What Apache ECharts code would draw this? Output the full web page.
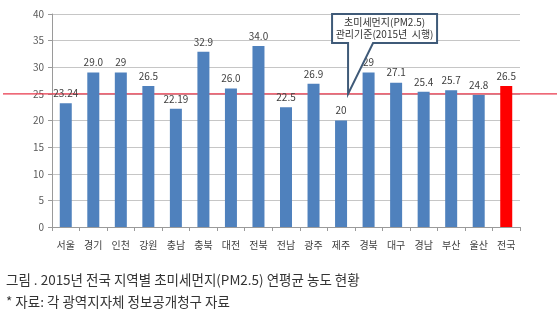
<!DOCTYPE html>
<html>
<head>
<meta charset="utf-8">
<script src="https://cdn.jsdelivr.net/npm/echarts@6/dist/echarts.min.js"></script>
<style>
  html, body { margin: 0; padding: 0; background: #fff; }
  #chart { width: 557px; height: 331px; }
</style>
</head>
<body>
<div id="chart"></div>
<script>
// 2015 annual mean PM2.5 concentration by region (µg/m³)
const regions = ['서울', '경기', '인천', '강원', '충남', '충북', '대전', '전북', '전남', '광주', '제주', '경북', '대구', '경남', '부산', '울산', '전국'];
const valueLabels = ['23.24', '29.0', '29', '26.5', '22.19', '32.9', '26.0', '34.0', '22.5', '26.9', '20', '29', '27.1', '25.4', '25.7', '24.8', '26.5'];
const values = valueLabels.map(Number);
const yTicks = [0, 5, 10, 15, 20, 25, 30, 35, 40];
const standardLevel = 25;
const calloutLines = ['초미세먼지(PM2.5)', '관리기준(2015년  시행)'];
const captionLines = ['그림 . 2015년 전국 지역별 초미세먼지(PM2.5) 연평균 농도 현황', '* 자료: 각 광역지자체 정보공개청구 자료'];

const FONT = '"Noto Sans CJK KR", "Noto Sans", sans-serif';
const chart = echarts.init(document.getElementById('chart'), null, { renderer: 'canvas' });

const barData = values.map((v, i) => ({
  value: v,
  itemStyle: { color: regions[i] === '전국' ? '#ff0000' : '#4f81bd' }
}));

chart.setOption({
  animation: false,
  textStyle: { fontFamily: FONT },
  grid: { left: 52, right: 37, top: 14, bottom: 104 },
  xAxis: {
    type: 'category',
    data: regions,
    axisLine: { lineStyle: { color: '#9a9a9a' } },
    axisTick: { show: true, length: 4, lineStyle: { color: '#9a9a9a' } },
    axisLabel: { color: '#404040', fontSize: 10, margin: 13, interval: 0, fontFamily: FONT }
  },
  yAxis: {
    type: 'value',
    min: yTicks[0],
    max: yTicks[yTicks.length - 1],
    interval: yTicks[1] - yTicks[0],
    axisLine: { show: true, lineStyle: { color: '#9a9a9a' } },
    axisTick: { show: true, length: 4, lineStyle: { color: '#9a9a9a' } },
    axisLabel: { color: '#595959', fontSize: 10, margin: 8, fontFamily: FONT },
    splitLine: { lineStyle: { color: '#c6c6c6' } }
  },
  series: [{
    type: 'bar',
    data: barData,
    barWidth: 12,
    z: 3,
    label: {
      show: true,
      position: 'top',
      distance: 5,
      color: '#404040',
      fontSize: 10,
      fontFamily: FONT,
      formatter: p => valueLabels[p.dataIndex]
    }
  }],
  title: [
    { text: captionLines[0], left: 1, top: 268, textStyle: { fontSize: 13.5, fontWeight: 'normal', color: '#333', fontFamily: FONT } },
    { text: captionLines[1], left: 1, top: 290, textStyle: { fontSize: 13.5, fontWeight: 'normal', color: '#333', fontFamily: FONT } }
  ]
});

// Standard line across the full width, plus the callout box pointing at it
const refY = chart.convertToPixel({ gridIndex: 0 }, [0, standardLevel])[1];
const jejuX = chart.convertToPixel({ gridIndex: 0 }, [regions.indexOf('제주'), standardLevel])[0];
const tipX = jejuX + 7;
const boxL = tipX - 16, boxR = tipX + 89, boxT = 14, boxB = 43;

chart.setOption({
  graphic: [
    {
      type: 'line', z: 1, silent: true,
      shape: { x1: 3, y1: refY, x2: 557, y2: refY },
      style: { stroke: '#e8374b', lineWidth: 1.2 }
    },
    {
      type: 'polygon', z: 10, silent: true,
      shape: {
        points: [
          [boxL, boxT], [boxR, boxT], [boxR, boxB],
          [tipX + 25, boxB], [tipX, refY], [tipX, boxB],
          [boxL, boxB]
        ]
      },
      style: { fill: '#ffffff', stroke: '#3f5a78', lineWidth: 2 }
    },
    {
      type: 'text', z: 11, silent: true,
      style: {
        text: calloutLines.join('\n'),
        x: (boxL + boxR) / 2, y: (boxT + boxB) / 2,
        align: 'center', verticalAlign: 'middle',
        fontSize: 10, lineHeight: 12, fill: '#333', fontFamily: FONT
      }
    }
  ]
});
</script>
</body>
</html>
